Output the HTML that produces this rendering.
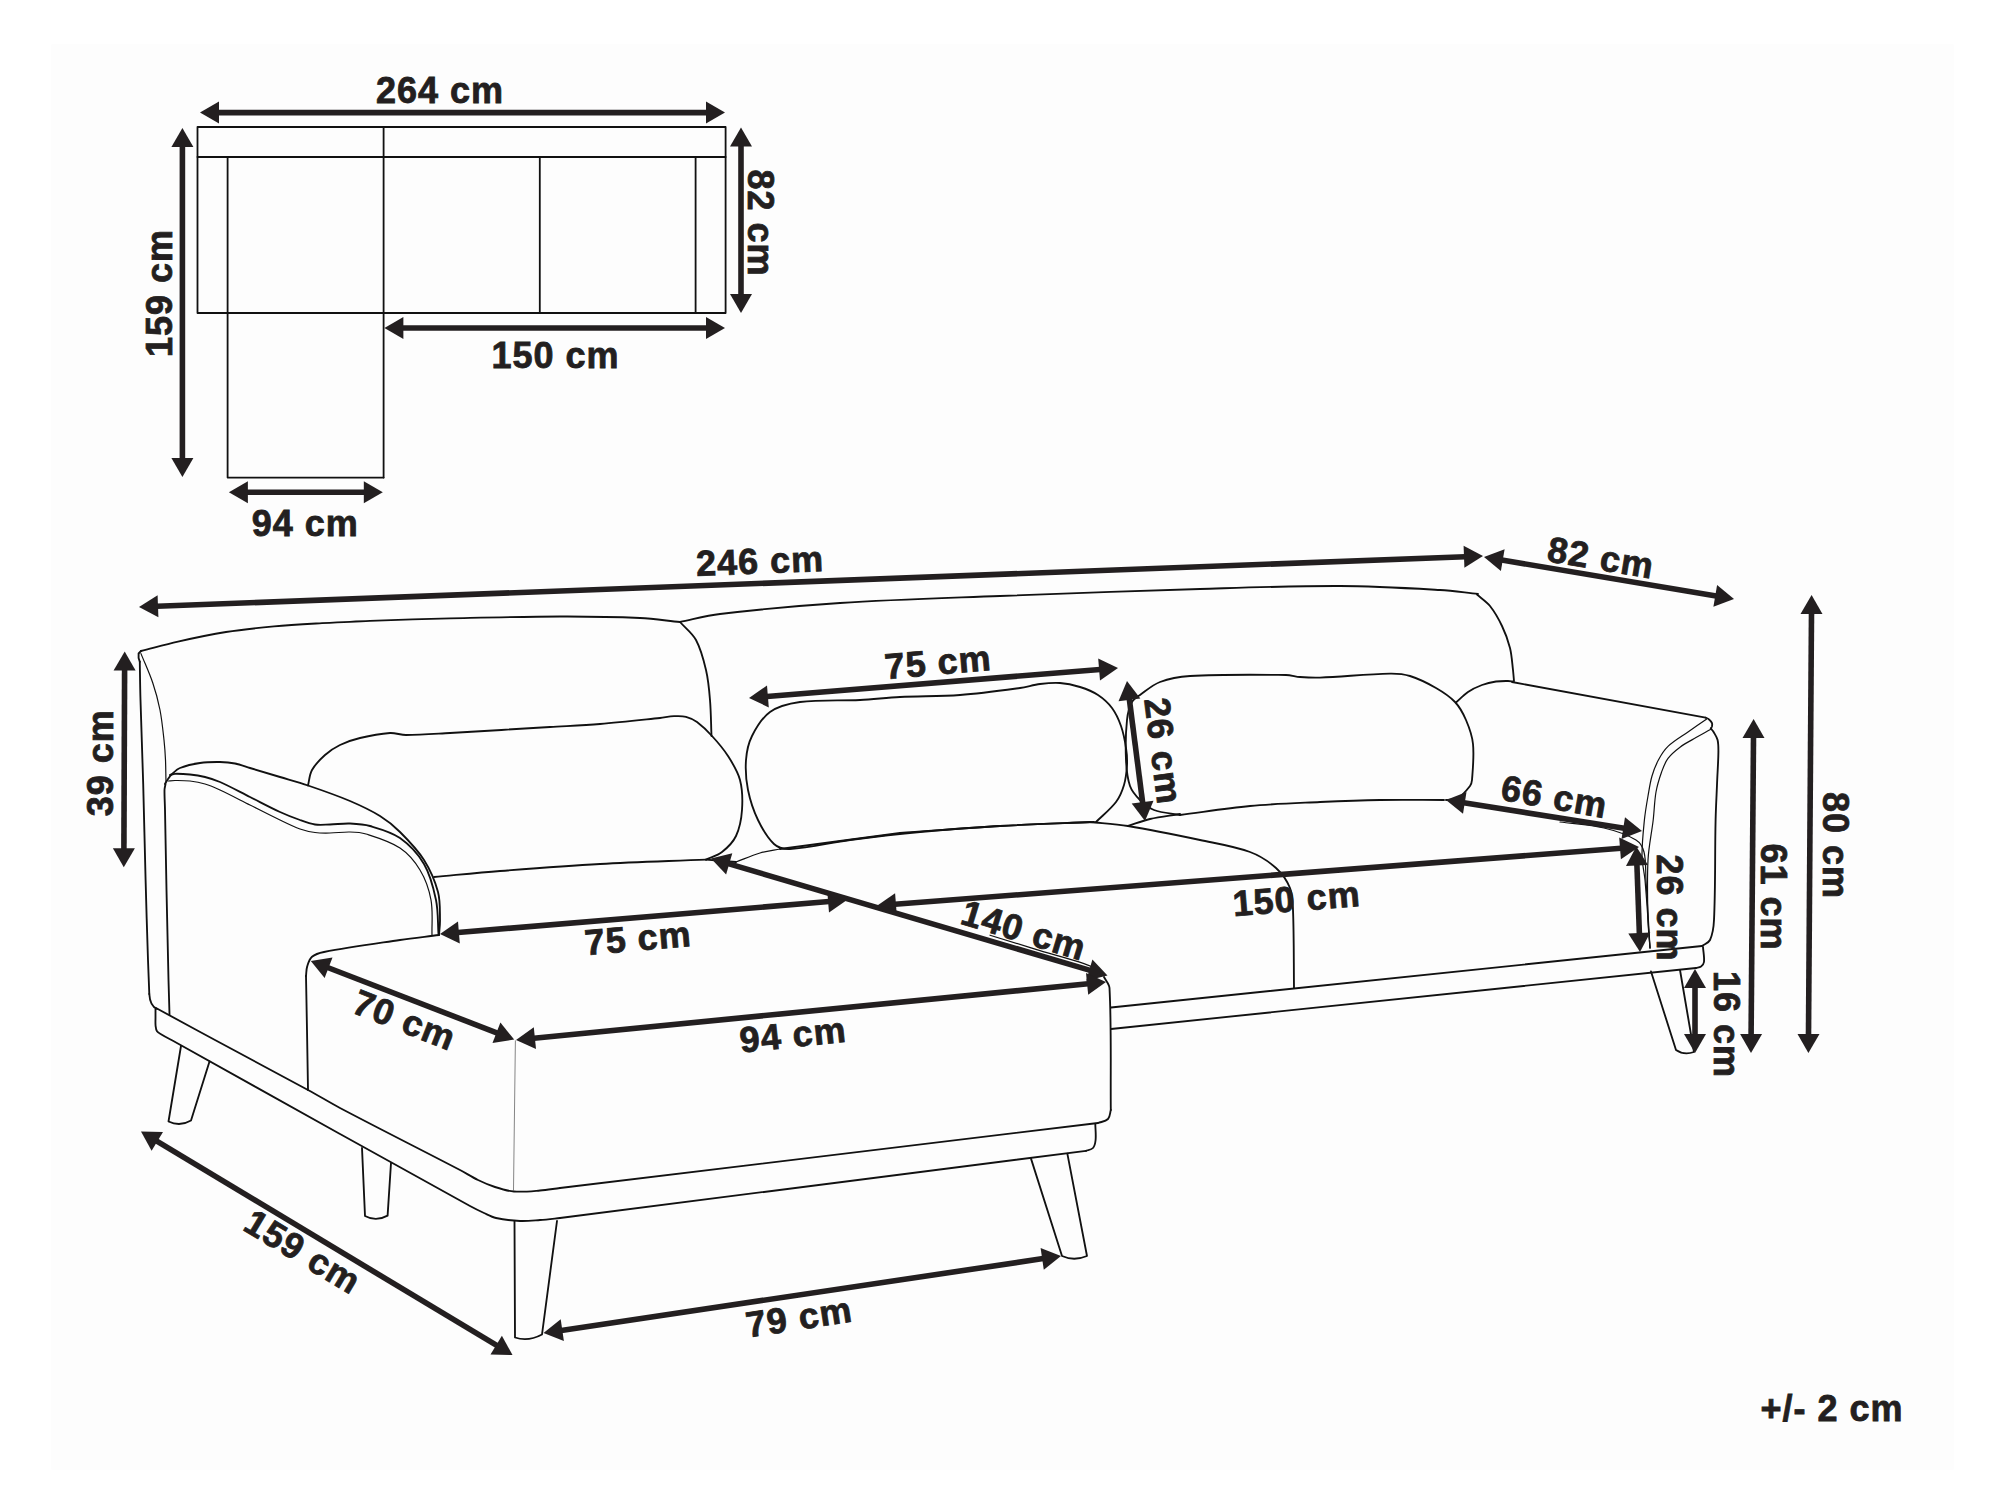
<!DOCTYPE html>
<html><head><meta charset="utf-8"><title>Sofa dimensions</title>
<style>
html,body{margin:0;padding:0;background:#fff;}
body{width:2000px;height:1500px;overflow:hidden;}
svg{display:block;}
text{font-family:"Liberation Sans",sans-serif;font-weight:bold;fill:#231f20;stroke:#231f20;stroke-width:0.8px;}
</style></head><body>
<svg width="2000" height="1500" viewBox="0 0 2000 1500">
<rect x="0" y="0" width="2000" height="1500" fill="#fff"/>
<rect x="51" y="44" width="1903" height="1426" rx="2" fill="#fdfdfd"/>
<path d="M197.5,127 L725.6,127 L725.6,313 L197.5,313 L197.5,127" stroke="#111" stroke-width="1.8" fill="none" stroke-linecap="round" stroke-linejoin="round"/>
<path d="M197.5,157 L725.6,157" stroke="#111" stroke-width="1.8" fill="none" stroke-linecap="round" stroke-linejoin="round"/>
<path d="M383.6,127 L383.6,477.6" stroke="#111" stroke-width="1.8" fill="none" stroke-linecap="round" stroke-linejoin="round"/>
<path d="M227.6,157 L227.6,477.6 L383.6,477.6" stroke="#111" stroke-width="1.8" fill="none" stroke-linecap="round" stroke-linejoin="round"/>
<path d="M539.8,157 L539.8,313" stroke="#111" stroke-width="1.8" fill="none" stroke-linecap="round" stroke-linejoin="round"/>
<path d="M695.6,157 L695.6,313" stroke="#111" stroke-width="1.8" fill="none" stroke-linecap="round" stroke-linejoin="round"/>
<line x1="218" y1="112.6" x2="707" y2="112.6" stroke="#231f20" stroke-width="5.6"/>
<polygon points="725,112.6 706,123.6 706,101.6" fill="#231f20"/>
<polygon points="200,112.6 219,101.6 219,123.6" fill="#231f20"/>
<line x1="182.4" y1="146" x2="182.4" y2="459" stroke="#231f20" stroke-width="5.6"/>
<polygon points="182.4,477 171.4,458 193.4,458" fill="#231f20"/>
<polygon points="182.4,128 193.4,147 171.4,147" fill="#231f20"/>
<line x1="741" y1="145.6" x2="741" y2="295" stroke="#231f20" stroke-width="5.6"/>
<polygon points="741,313 730,294 752,294" fill="#231f20"/>
<polygon points="741,127.6 752,146.6 730,146.6" fill="#231f20"/>
<line x1="402.4" y1="328" x2="707" y2="328" stroke="#231f20" stroke-width="5.6"/>
<polygon points="725,328 706,339 706,317" fill="#231f20"/>
<polygon points="384.4,328 403.4,317 403.4,339" fill="#231f20"/>
<line x1="246.9" y1="492.2" x2="364.8" y2="492.2" stroke="#231f20" stroke-width="5.6"/>
<polygon points="382.8,492.2 363.8,503.2 363.8,481.2" fill="#231f20"/>
<polygon points="228.9,492.2 247.9,481.2 247.9,503.2" fill="#231f20"/>
<text x="0" y="12.6" transform="translate(440 90) rotate(0)" text-anchor="middle" font-size="36" letter-spacing="1">264 cm</text>
<text x="0" y="12.6" transform="translate(760.6 223) rotate(90)" text-anchor="middle" font-size="36" letter-spacing="1">82 cm</text>
<text x="0" y="12.6" transform="translate(159.8 293) rotate(-90)" text-anchor="middle" font-size="36" letter-spacing="1">159 cm</text>
<text x="0" y="12.6" transform="translate(555.5 355.5) rotate(0)" text-anchor="middle" font-size="36" letter-spacing="1">150 cm</text>
<text x="0" y="12.6" transform="translate(305.3 523.6) rotate(0)" text-anchor="middle" font-size="36" letter-spacing="1">94 cm</text>
<path d="M141,651 C153.3,647.9 165.6,644.4 178,641.6 C193.9,638 209.9,634.6 226,632 C241.9,629.5 258,627.9 274,626.4 C290,624.9 306,624.1 322,623.2 C338,622.3 354,621.4 370,620.8 C396.7,619.8 423.3,619 450,618.4 C486.7,617.6 523.3,616.6 560,616.5 C586.7,616.4 613.4,616.8 640,618 C653.4,618.6 666.7,620.7 680,622" stroke="#111" stroke-width="1.85" fill="none" stroke-linecap="round" stroke-linejoin="round"/>
<path d="M141,651 L138.6,653.5 L138.6,658 L139.8,661.8" stroke="#111" stroke-width="1.85" fill="none" stroke-linecap="round" stroke-linejoin="round"/>
<path d="M139.8,661.8 C140,674.5 140.1,687.3 140.5,700 C141.3,728 142.4,756 143.2,784 C144.1,816 144.7,848 145.6,880 C146.3,906.7 147.1,933.3 148,960 C148.4,971.3 148.9,982.7 149.3,994" stroke="#111" stroke-width="1.85" fill="none" stroke-linecap="round" stroke-linejoin="round"/>
<path d="M149.3,994 Q150,1006 157,1009" stroke="#111" stroke-width="1.85" fill="none" stroke-linecap="round" stroke-linejoin="round"/>
<path d="M141,653.6 C144.9,663.4 149.4,673 152.8,683 C155.8,691.8 158.2,700.9 160,710 C161.9,719.9 162.9,730 164,740 C164.7,746.6 165.2,753.3 165.5,760 C165.8,767.3 165.8,774.7 166,782" stroke="#111" stroke-width="1.2" fill="none" stroke-linecap="round" stroke-linejoin="round"/>
<path d="M680,622 C685.3,628 692.2,632.9 696,640 C701,649.3 703.6,659.7 706,670 C708.3,679.8 709.2,689.9 710,700 C711,712 711,724 711.5,736" stroke="#111" stroke-width="1.85" fill="none" stroke-linecap="round" stroke-linejoin="round"/>
<path d="M680,622 C693.3,619.3 706.5,615.6 720,614 C759.9,609.3 799.9,605.6 840,603 C893.3,599.6 946.7,598.1 1000,596 C1066.7,593.4 1133.3,591 1200,589 C1246.7,587.6 1293.3,585.8 1340,586 C1373.4,586.1 1406.7,588.1 1440,590 C1452.7,590.7 1465.3,592.7 1478,594" stroke="#111" stroke-width="1.85" fill="none" stroke-linecap="round" stroke-linejoin="round"/>
<path d="M1477,594.5 C1481.3,598.3 1486.4,601.5 1490,606 C1494.8,612.1 1498.7,619 1502,626 C1505.4,633 1508.1,640.4 1510,648 C1511.8,655.2 1512.1,662.7 1513,670 C1513.4,673.7 1513.7,677.3 1514,681" stroke="#111" stroke-width="1.85" fill="none" stroke-linecap="round" stroke-linejoin="round"/>
<path d="M165,784 C166,782.3 166.9,780.6 168,779 C169.2,777.3 170.4,775.4 172,774 C174.5,771.7 176.9,769.2 180,768 C186.4,765.5 193.2,764 200,763 C206.6,762 213.3,761.9 220,762 C225,762.1 230.1,762.5 235,763.5 C240.1,764.5 245,766.5 250,768 C260,771 270,774 280,777 C289.3,779.8 298.8,782.3 308,785.5 C322.1,790.3 336.3,795.2 350,801 C360.3,805.4 370.5,810.1 380,816 C387.3,820.5 394,826 400,832 C408.7,840.7 417.4,849.6 424,860 C430.2,869.8 435,880.8 438,892 C440.4,901 439.8,910.6 440,920 C440.1,925 439.3,930 439,935" stroke="#111" stroke-width="1.85" fill="none" stroke-linecap="round" stroke-linejoin="round"/>
<path d="M170,775 C171.7,774.6 173.3,773.8 175,773.8 C180,773.7 185,774 190,774.5 C195,775 200.1,775.8 205,777 C210.1,778.3 215.2,779.9 220,782 C230.2,786.5 240,792 250,797 C260,802 269.8,807.3 280,812 C286.5,815 293.2,817.6 300,820 C304.9,821.8 309.8,823.7 315,824.5 C319.9,825.2 325,824.6 330,824.5 C336.7,824.3 343.3,823.2 350,823.5 C356.7,823.8 363.5,824.1 370,826 C380.3,829 391.2,831.8 400,838 C409.6,844.8 418.1,853.8 424,864 C430.4,874.9 433.4,887.6 436,900 C438.3,911.1 437.7,922.7 438.5,934" stroke="#111" stroke-width="1.85" fill="none" stroke-linecap="round" stroke-linejoin="round"/>
<path d="M168.5,781 C170.7,780.8 172.8,780.5 175,780.5 C180,780.5 185,780.4 190,781 C195.1,781.6 200.1,782.5 205,784 C210.2,785.5 215.1,787.7 220,790 C230.1,794.7 240,800 250,805 C260,810 269.9,815.2 280,820 C286.6,823.2 293.1,826.5 300,829 C304.8,830.7 309.9,831.8 315,832.5 C320,833.2 325,833.1 330,833 C336.7,832.9 343.3,831.8 350,832 C355.4,832.1 360.9,832.4 366,834 C377.7,837.7 389.8,841.2 400,848 C408.2,853.5 414.9,861.5 420,870 C425.5,879.1 429.1,889.5 431,900 C433.1,911.5 431.7,923.3 432,935" stroke="#111" stroke-width="1.2" fill="none" stroke-linecap="round" stroke-linejoin="round"/>
<path d="M165.5,784 C165.2,786 164.5,788 164.5,790 C164.4,796.7 164.9,803.3 165,810 C165.5,836.7 166,863.3 166.5,890 C167.1,920 167.8,950 168.5,980 C168.8,991.5 169.2,1003 169.5,1014.5" stroke="#111" stroke-width="1.85" fill="none" stroke-linecap="round" stroke-linejoin="round"/>
<path d="M308,785.5 C309.3,780.3 309.4,774.7 312,770 C315.2,764.2 320.1,759.4 325,755 C329.5,751 334.6,747.6 340,745 C346.4,741.9 353.1,739.6 360,738 C369.9,735.6 379.9,733.7 390,733 C395.4,732.7 400.6,735 406,735 C420.7,735 435.3,733.8 450,733 C483.3,731.1 516.7,729 550,727 C566.7,726 583.4,725.4 600,724 C620,722.4 640,720.1 660,718 C664.7,717.5 669.3,716.4 674,716.2 C678,716 682.1,715.8 686,716.8 C689.9,717.8 693.7,719.6 697,722 C702.5,726.1 707.4,730.9 712,736 C717.8,742.3 723.4,748.8 728,756 C732.8,763.5 737.8,771.3 740,780 C742.5,789.7 742.7,800 742,810 C741.4,818.9 739.8,828 736,836 C733,842.4 727.6,847.6 722,852 C717.4,855.7 711.3,857.1 706,859.6" stroke="#111" stroke-width="1.85" fill="none" stroke-linecap="round" stroke-linejoin="round"/>
<path d="M1096,822 C1102.7,815.3 1110.3,809.5 1116,802 C1119.8,797 1122.2,791 1124,785 C1125.9,778.5 1126.6,771.7 1127,765 C1127.3,759.3 1126.9,753.6 1126,748 C1124.9,740.6 1123.5,733.1 1121,726 C1118.8,719.7 1116,713.4 1112,708 C1108.2,702.9 1103.3,698.5 1098,695 C1092.5,691.4 1086.3,689 1080,687 C1073.5,685 1066.8,683.5 1060,683 C1053.3,682.5 1046.6,683.2 1040,684 C1033.3,684.8 1026.7,687.1 1020,688 C1000.1,690.7 980.1,693.5 960,695 C940,696.5 920,696 900,697 C886.6,697.7 873.4,699.3 860,700 C840,701 819.8,699.4 800,702 C789.6,703.4 778.6,705.9 770,712 C761.8,717.8 756.5,727.1 752,736 C748.3,743.4 746.6,751.8 746,760 C745.3,770 746,780.2 748,790 C750.1,800.3 753.4,810.5 758,820 C762.2,828.7 766.9,837.5 774,844 C778.1,847.8 784.4,849.3 790,849 C810.2,847.9 829.9,842.6 850,840 C873.3,837 896.6,834.2 920,832 C946.6,829.5 973.3,827.5 1000,826 C1031.3,824.2 1062.7,823.3 1094,822" stroke="#111" stroke-width="1.85" fill="none" stroke-linecap="round" stroke-linejoin="round"/>
<path d="M1180,815 C1171.3,813.3 1162.3,813.1 1154,810 C1148.6,808 1144.1,804.1 1140,800 C1135.9,795.9 1131.9,791.4 1130,786 C1127.1,777.7 1126.4,768.8 1126,760 C1125.4,746.7 1125.6,733.3 1127,720 C1127.6,713.8 1129.1,707.5 1132,702 C1133.6,698.9 1137.1,697.1 1140,695 C1146.5,690.4 1152.6,684.8 1160,682 C1169.5,678.4 1179.8,676.6 1190,676 C1222,674.2 1254,674.7 1286,675 C1290.7,675 1295.3,676.6 1300,677 C1306.7,677.5 1313.3,677.9 1320,677.6 C1343.4,676.7 1366.6,674 1390,673.6 C1396.7,673.5 1403.6,674 1410,676 C1419.1,678.9 1427.7,683.2 1436,688 C1442.8,691.9 1449.6,696.3 1455,702 C1459.8,707.1 1463.2,713.5 1466,720 C1469.3,727.7 1472.2,735.7 1473,744 C1474.2,755.9 1472.9,768 1472,780 C1471.8,782.1 1471.3,784.3 1470,786 C1466.5,790.5 1462.9,795.1 1458,798 C1454.5,800 1450,799.3 1446,800" stroke="#111" stroke-width="1.85" fill="none" stroke-linecap="round" stroke-linejoin="round"/>
<path d="M1180,815 C1203.3,812 1226.6,808.2 1250,806 C1273.3,803.8 1296.7,803.1 1320,802 C1340,801.1 1360,800.3 1380,800 C1401.3,799.7 1422.7,800 1444,800" stroke="#111" stroke-width="1.85" fill="none" stroke-linecap="round" stroke-linejoin="round"/>
<path d="M1456,702.5 C1460,699 1463.6,695 1468,692 C1472.3,689.1 1477.1,686.8 1482,685 C1486.5,683.3 1491.2,682.2 1496,681.5 C1500,680.9 1504,681 1508,681 C1509.7,681 1511.3,681.3 1513,681.5" stroke="#111" stroke-width="1.85" fill="none" stroke-linecap="round" stroke-linejoin="round"/>
<path d="M1512,682 L1705.6,717.6" stroke="#111" stroke-width="1.85" fill="none" stroke-linecap="round" stroke-linejoin="round"/>
<path d="M1705.6,717.6 C1706.7,718.1 1707.9,718.4 1708.8,719.2 C1710.1,720.3 1711.3,721.6 1712,723.2 C1712.4,724.2 1712.2,725.4 1712,726.4 C1711.8,727.2 1711.2,727.7 1710.8,728.4" stroke="#111" stroke-width="1.85" fill="none" stroke-linecap="round" stroke-linejoin="round"/>
<path d="M1710.8,728.4 C1711.7,729.6 1712.8,730.7 1713.6,732 C1715.1,734.6 1716.9,737.1 1717.6,740 C1718.5,743.9 1718.4,748 1718.4,752 C1718.3,761.3 1717.6,770.7 1717.2,780 C1716.7,793.3 1715.9,806.7 1715.6,820 C1714.8,853.3 1715.6,886.7 1714,920 C1713.7,926.8 1712.8,933.8 1710,940 C1708.6,943 1704.7,944 1702,946" stroke="#111" stroke-width="1.85" fill="none" stroke-linecap="round" stroke-linejoin="round"/>
<path d="M1706.4,719.2 C1700.3,723.5 1694.1,727.7 1688,732 C1681.3,736.7 1674,740.8 1668,746.4 C1664,750.2 1661,755.1 1658.4,760 C1655.7,765.1 1653.6,770.5 1652,776 C1650.1,782.5 1649.2,789.3 1648,796 C1646.6,804 1645.2,812 1644.4,820 C1643.2,832 1641.9,844 1642,856 C1642.1,864.1 1644.3,872 1645,880 C1647,902.6 1648.3,925.3 1650,948" stroke="#111" stroke-width="1.2" fill="none" stroke-linecap="round" stroke-linejoin="round"/>
<path d="M1710.4,729.6 C1705.6,732.3 1700.8,734.8 1696,737.6 C1690.6,740.7 1685,743.5 1680,747.2 C1675.6,750.5 1671.3,754 1668,758.4 C1665,762.4 1663.3,767.3 1661.6,772 C1659.3,778.5 1657.2,785.2 1656,792 C1654.4,801.2 1654.3,810.7 1653.2,820 C1651.6,833.4 1648.7,846.6 1648,860 C1647,880 1647.5,900 1648,920 C1648.2,929.4 1649.3,938.7 1650,948" stroke="#111" stroke-width="1.2" fill="none" stroke-linecap="round" stroke-linejoin="round"/>
<path d="M434,877 C456,875 478,872.7 500,871 C533.3,868.4 566.6,865.8 600,864 C635.3,862 670.7,861.1 706,859.6" stroke="#111" stroke-width="1.85" fill="none" stroke-linecap="round" stroke-linejoin="round"/>
<path d="M706,859.6 L736,862" stroke="#111" stroke-width="1.85" fill="none" stroke-linecap="round" stroke-linejoin="round"/>
<path d="M736,862 C744,859 751.8,855.4 760,853 C766.5,851.1 773.3,850.3 780,849" stroke="#111" stroke-width="1.2" fill="none" stroke-linecap="round" stroke-linejoin="round"/>
<path d="M900,833 C933.3,830.7 966.6,827.9 1000,826 C1030,824.3 1060,823.3 1090,822" stroke="#111" stroke-width="1.85" fill="none" stroke-linecap="round" stroke-linejoin="round"/>
<path d="M1090,822 C1102.7,823.3 1115.4,823.9 1128,826 C1152.1,829.9 1176.1,834.9 1200,840 C1216.8,843.6 1233.9,846.1 1250,852 C1259.5,855.5 1268.4,861.2 1276,868 C1282,873.4 1286.9,880.5 1290,888 C1292.8,894.9 1292.7,902.6 1293,910 C1294,936 1293.7,962 1294,988" stroke="#111" stroke-width="1.85" fill="none" stroke-linecap="round" stroke-linejoin="round"/>
<path d="M1128,826 C1135.3,823.7 1142.5,820.7 1150,819 C1159.9,816.7 1170,815.7 1180,814" stroke="#111" stroke-width="1.85" fill="none" stroke-linecap="round" stroke-linejoin="round"/>
<path d="M780,849 C800,846.3 820,843.7 840,841 C860,838.3 880,835.7 900,833" stroke="#111" stroke-width="1.85" fill="none" stroke-linecap="round" stroke-linejoin="round"/>
<path d="M1560,822 C1574.7,824 1589.6,824.6 1604,828 C1615.1,830.6 1626.2,834.1 1636,840 C1640.1,842.5 1642.8,847.3 1644,852 C1646.3,861.1 1645.4,870.7 1646,880 C1647.4,902.7 1648.7,925.3 1650,948" stroke="#111" stroke-width="1.2" fill="none" stroke-linecap="round" stroke-linejoin="round"/>
<path d="M990,935.2 C1006.7,940.3 1023.3,945.6 1040,950.6 C1054.6,955 1069.5,958.7 1084,963.6 C1088.9,965.2 1093.6,967.4 1098,970 C1100.3,971.4 1102,973.7 1104,975.5" stroke="#111" stroke-width="1.2" fill="none" stroke-linecap="round" stroke-linejoin="round"/>
<path d="M439,935 C426,936.7 413,938.1 400,940 C374.6,943.8 349.2,947.2 324,952 C319.8,952.8 315.3,954 312,956.8 C309.3,959.1 308.3,963 307.2,966.4 C306.2,969.5 306.4,972.8 306,976" stroke="#111" stroke-width="1.85" fill="none" stroke-linecap="round" stroke-linejoin="round"/>
<path d="M306,976 C306.3,994 306.7,1012 307,1030 C307.4,1050 307.7,1070 308,1090" stroke="#111" stroke-width="1.85" fill="none" stroke-linecap="round" stroke-linejoin="round"/>
<path d="M515.4,1040.8 L513.5,1190" stroke="#777" stroke-width="0.9" fill="none" stroke-linecap="round" stroke-linejoin="round"/>
<path d="M1104,977 C1105.8,980.7 1109.3,983.9 1109.5,988 C1111.6,1028.6 1110.4,1069.3 1110.8,1110" stroke="#111" stroke-width="1.85" fill="none" stroke-linecap="round" stroke-linejoin="round"/>
<path d="M1110.8,1110 C1109.9,1113 1110.2,1116.8 1108,1119 C1105.5,1121.6 1101.3,1121.7 1098,1123" stroke="#111" stroke-width="1.85" fill="none" stroke-linecap="round" stroke-linejoin="round"/>
<path d="M156,1008 C175.7,1018.7 195.3,1029.4 215,1040 C246,1056.7 277.1,1073.2 308,1090 C318.8,1095.8 329.2,1102.3 340,1108 C379.8,1129 420.1,1149.2 460,1170 C466.1,1173.2 471.8,1177 478,1180 C483.5,1182.7 489.2,1185.1 495,1187 C501.2,1189 507.5,1191 514,1191.5 C522.6,1192.2 531.4,1191.2 540,1190.5 C546.7,1190 553.3,1188.8 560,1188" stroke="#111" stroke-width="1.85" fill="none" stroke-linecap="round" stroke-linejoin="round"/>
<path d="M560,1188 L1098,1123" stroke="#111" stroke-width="1.85" fill="none" stroke-linecap="round" stroke-linejoin="round"/>
<path d="M155.5,1009 C155.5,1012 155.5,1015 155.5,1018 C155.5,1020.7 155.3,1023.3 155.6,1026 C155.8,1027.8 156,1029.8 157,1031.3 C157.9,1032.7 159.6,1033.4 161,1034.2 C164.6,1036.4 168.3,1038.3 172,1040.3 C228,1071.5 284,1102.8 340,1134 C383.3,1158.1 426.6,1182.2 470,1206 C474.6,1208.5 479.3,1210.8 484,1213 C487.9,1214.8 491.8,1217.1 496,1218 C503.9,1219.7 511.9,1220.6 520,1221 C526.7,1221.3 533.3,1220.5 540,1220 C546.7,1219.5 553.3,1218.7 560,1218" stroke="#111" stroke-width="1.85" fill="none" stroke-linecap="round" stroke-linejoin="round"/>
<path d="M560,1218 L1086,1150.8" stroke="#111" stroke-width="1.85" fill="none" stroke-linecap="round" stroke-linejoin="round"/>
<path d="M1095.3,1123.8 C1095.4,1129.2 1096.1,1134.6 1095.6,1140 C1095.3,1142.8 1094.9,1145.9 1093,1148 C1091.3,1149.9 1088.3,1149.9 1086,1150.8" stroke="#111" stroke-width="1.85" fill="none" stroke-linecap="round" stroke-linejoin="round"/>
<path d="M1111,1007.5 L1702,946" stroke="#111" stroke-width="1.85" fill="none" stroke-linecap="round" stroke-linejoin="round"/>
<path d="M1111,1029 L1696,968" stroke="#111" stroke-width="1.85" fill="none" stroke-linecap="round" stroke-linejoin="round"/>
<path d="M1703,947 C1703.3,952 1704.5,957 1704,962 C1703.8,963.8 1702.4,965.4 1701,966.5 C1699.6,967.5 1697.7,967.5 1696,968" stroke="#111" stroke-width="1.85" fill="none" stroke-linecap="round" stroke-linejoin="round"/>
<path d="M181,1046 L168.5,1121.5 Q180,1127 191,1120.5 L209.5,1061.5" stroke="#111" stroke-width="1.85" fill="none" stroke-linecap="round" stroke-linejoin="round"/>
<path d="M362,1148 L365,1216 Q376,1222 387.6,1215.6 L391,1163" stroke="#111" stroke-width="1.85" fill="none" stroke-linecap="round" stroke-linejoin="round"/>
<path d="M514.5,1221 L515,1337.5 Q528,1342 542,1334.5 L557,1221" stroke="#111" stroke-width="1.85" fill="none" stroke-linecap="round" stroke-linejoin="round"/>
<path d="M1031,1158.6 L1062,1256 Q1074,1261.5 1087,1256 L1067.4,1153.8" stroke="#111" stroke-width="1.85" fill="none" stroke-linecap="round" stroke-linejoin="round"/>
<path d="M1651,971.5 L1676,1050 Q1684,1055.5 1694,1052 L1680,970" stroke="#111" stroke-width="1.85" fill="none" stroke-linecap="round" stroke-linejoin="round"/>
<line x1="157" y1="606.3" x2="1465" y2="556.7" stroke="#231f20" stroke-width="5.6"/>
<polygon points="1483,556 1464.4,567.7 1463.6,545.7" fill="#231f20"/>
<polygon points="139,607 157.6,595.3 158.4,617.3" fill="#231f20"/>
<line x1="1501.8" y1="560" x2="1716.2" y2="596" stroke="#231f20" stroke-width="5.6"/>
<polygon points="1734,599 1713.4,606.7 1717.1,585" fill="#231f20"/>
<polygon points="1484,557 1504.6,549.3 1500.9,571" fill="#231f20"/>
<line x1="124.6" y1="669.5" x2="123.9" y2="849.2" stroke="#231f20" stroke-width="5.6"/>
<polygon points="123.8,867.2 112.9,848.2 134.9,848.2" fill="#231f20"/>
<polygon points="124.7,651.5 135.6,670.5 113.6,670.5" fill="#231f20"/>
<line x1="1811.5" y1="613" x2="1808.5" y2="1035" stroke="#231f20" stroke-width="5.6"/>
<polygon points="1808.4,1053 1797.5,1033.9 1819.5,1034.1" fill="#231f20"/>
<polygon points="1811.6,595 1822.5,614.1 1800.5,613.9" fill="#231f20"/>
<line x1="1753.5" y1="737" x2="1751.1" y2="1035" stroke="#231f20" stroke-width="5.6"/>
<polygon points="1751,1053 1740.1,1033.9 1762.1,1034.1" fill="#231f20"/>
<polygon points="1753.6,719 1764.5,738.1 1742.5,737.9" fill="#231f20"/>
<line x1="1695" y1="987" x2="1695" y2="1035" stroke="#231f20" stroke-width="5.6"/>
<polygon points="1695,1053 1684,1034 1706,1034" fill="#231f20"/>
<polygon points="1695,969 1706,988 1684,988" fill="#231f20"/>
<line x1="1636.9" y1="864.5" x2="1639.4" y2="934" stroke="#231f20" stroke-width="5.6"/>
<polygon points="1640,952 1628.3,933.4 1650.3,932.6" fill="#231f20"/>
<polygon points="1636.3,846.5 1648,865.1 1626,865.9" fill="#231f20"/>
<line x1="1129.3" y1="698.9" x2="1142.7" y2="803.1" stroke="#231f20" stroke-width="5.6"/>
<polygon points="1145,821 1131.7,803.6 1153.5,800.8" fill="#231f20"/>
<polygon points="1127,681 1140.3,698.4 1118.5,701.2" fill="#231f20"/>
<line x1="766.9" y1="696.5" x2="1100.1" y2="669.5" stroke="#231f20" stroke-width="5.6"/>
<polygon points="1118,668 1100,680.5 1098.2,658.6" fill="#231f20"/>
<polygon points="749,698 767,685.5 768.8,707.4" fill="#231f20"/>
<line x1="1463.8" y1="802.8" x2="1624.2" y2="828.2" stroke="#231f20" stroke-width="5.6"/>
<polygon points="1642,831 1621.5,838.9 1625,817.2" fill="#231f20"/>
<polygon points="1446,800 1466.5,792.1 1463,813.8" fill="#231f20"/>
<line x1="457.9" y1="932.5" x2="829.1" y2="901.5" stroke="#231f20" stroke-width="5.6"/>
<polygon points="847,900 829,912.5 827.2,890.6" fill="#231f20"/>
<polygon points="440,934 458,921.5 459.8,943.4" fill="#231f20"/>
<line x1="894.9" y1="904.3" x2="1621.1" y2="848.3" stroke="#231f20" stroke-width="5.6"/>
<polygon points="1639,846.9 1620.9,859.3 1619.2,837.4" fill="#231f20"/>
<polygon points="877,905.7 895.1,893.3 896.8,915.2" fill="#231f20"/>
<line x1="728.3" y1="863.6" x2="1090.2" y2="970.4" stroke="#231f20" stroke-width="5.6"/>
<polygon points="1107.5,975.5 1086.2,980.7 1092.4,959.6" fill="#231f20"/>
<polygon points="711,858.5 732.3,853.3 726.1,874.4" fill="#231f20"/>
<line x1="327.6" y1="967.5" x2="497.4" y2="1033.1" stroke="#231f20" stroke-width="5.6"/>
<polygon points="514.2,1039.6 492.5,1043 500.4,1022.5" fill="#231f20"/>
<polygon points="310.8,961 332.5,957.6 324.6,978.1" fill="#231f20"/>
<line x1="533.9" y1="1038.2" x2="1088.1" y2="983.8" stroke="#231f20" stroke-width="5.6"/>
<polygon points="1106,982 1088.2,994.8 1086,972.9" fill="#231f20"/>
<polygon points="516,1040 533.8,1027.2 536,1049.1" fill="#231f20"/>
<line x1="156.4" y1="1140.9" x2="497.1" y2="1345.7" stroke="#231f20" stroke-width="5.6"/>
<polygon points="512.5,1355 490.5,1354.6 501.9,1335.8" fill="#231f20"/>
<polygon points="141,1131.6 163,1132 151.6,1150.8" fill="#231f20"/>
<line x1="561.3" y1="1330.4" x2="1043.2" y2="1258.6" stroke="#231f20" stroke-width="5.6"/>
<polygon points="1061,1256 1043.8,1269.7 1040.6,1247.9" fill="#231f20"/>
<polygon points="543.5,1333 560.7,1319.3 563.9,1341.1" fill="#231f20"/>
<text x="0" y="12.6" transform="translate(760 560.9) rotate(-2.2)" text-anchor="middle" font-size="36" letter-spacing="1">246 cm</text>
<text x="0" y="12.6" transform="translate(1601 557.5) rotate(9.5)" text-anchor="middle" font-size="36" letter-spacing="1">82 cm</text>
<text x="0" y="12.6" transform="translate(938 662) rotate(-4.9)" text-anchor="middle" font-size="36" letter-spacing="1">75 cm</text>
<text x="0" y="12.6" transform="translate(1163.5 751) rotate(82.7)" text-anchor="middle" font-size="36" letter-spacing="1">26 cm</text>
<text x="0" y="12.6" transform="translate(100.8 762.7) rotate(-90)" text-anchor="middle" font-size="36" letter-spacing="1">39 cm</text>
<text x="0" y="12.6" transform="translate(1554.5 796.5) rotate(10)" text-anchor="middle" font-size="36" letter-spacing="1">66 cm</text>
<text x="0" y="12.6" transform="translate(638 938) rotate(-4.9)" text-anchor="middle" font-size="36" letter-spacing="1">75 cm</text>
<text x="0" y="12.6" transform="translate(1296.5 898.5) rotate(-4.6)" text-anchor="middle" font-size="36" letter-spacing="1">150 cm</text>
<text x="0" y="12.6" transform="translate(1024 930) rotate(17)" text-anchor="middle" font-size="36" letter-spacing="1">140 cm</text>
<text x="0" y="12.6" transform="translate(404.6 1019.8) rotate(21.5)" text-anchor="middle" font-size="36" letter-spacing="1">70 cm</text>
<text x="0" y="12.6" transform="translate(793 1034.5) rotate(-6)" text-anchor="middle" font-size="36" letter-spacing="1">94 cm</text>
<text x="0" y="12.6" transform="translate(1670 908) rotate(90)" text-anchor="middle" font-size="36" letter-spacing="1">26 cm</text>
<text x="0" y="12.6" transform="translate(1774 897) rotate(90)" text-anchor="middle" font-size="36" letter-spacing="1">61 cm</text>
<text x="0" y="12.6" transform="translate(1836 845.5) rotate(90)" text-anchor="middle" font-size="36" letter-spacing="1">80 cm</text>
<text x="0" y="12.6" transform="translate(1727 1024.5) rotate(90)" text-anchor="middle" font-size="36" letter-spacing="1">16 cm</text>
<text x="0" y="12.6" transform="translate(303 1251.5) rotate(31)" text-anchor="middle" font-size="36" letter-spacing="1">159 cm</text>
<text x="0" y="12.6" transform="translate(799 1317) rotate(-8.7)" text-anchor="middle" font-size="36" letter-spacing="1">79 cm</text>
<text x="0" y="12.6" transform="translate(1832 1408.5) rotate(0)" text-anchor="middle" font-size="36" letter-spacing="1">+/- 2 cm</text>
</svg>
</body></html>
